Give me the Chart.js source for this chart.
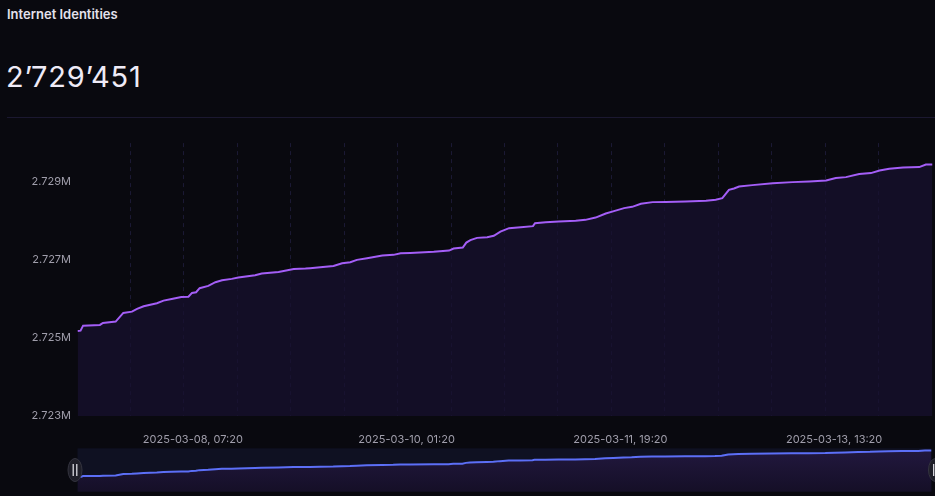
<!DOCTYPE html>
<html><head><meta charset="utf-8">
<script src="https://cdn.jsdelivr.net/npm/chart.js@4/dist/chart.umd.min.js"></script>
<style>
html,body{margin:0;padding:0;background:#09090f;width:935px;height:496px;overflow:hidden;font-family:Inter,"Noto Sans",sans-serif;}
#title{position:absolute;left:7px;top:8px;font-size:13px;line-height:13px;font-weight:600;color:#e4e1ec;white-space:nowrap;}
#value{position:absolute;left:6px;top:62px;font-size:29px;line-height:29px;font-weight:400;letter-spacing:0.8px;color:#efebf7;white-space:nowrap;}
#divider{position:absolute;left:7px;right:0;top:117px;height:1px;background:#1b1830;}
#c1{position:absolute;left:0;top:130px;}
#c2{position:absolute;left:0;top:446px;}
</style></head>
<body>
<div id="title">Internet Identities</div>
<div id="value">2’729’451</div>
<div id="divider"></div>
<canvas id="c1" width="935" height="318"></canvas>
<canvas id="c2" width="935" height="50"></canvas>
<script>
// hours since 2025-03-07 08:40
const hours = [0,0.6,1.1,4.4,5.0,7.5,9.0,10.7,11.7,13.0,15.6,16.9,18.5,20.4,21.8,22.5,23.3,24.0,25.7,27.1,28.4,30.3,31.6,34.9,36.2,39.5,42.5,44.8,45.7,47.7,50.3,52.0,53.6,54.9,56.9,59.9,62.1,63.5,65.4,70.0,73.0,73.9,75.7,76.4,77.2,78.5,80.5,81.8,83.1,84.8,87.1,89.5,89.9,92.0,94.6,97.9,99.8,101.8,103.8,105.4,107.4,109.0,110.7,113.0,115.6,119.5,123.5,125.4,126.7,128.0,129.0,130.0,132.6,136.6,140.5,143.8,147.1,149.0,151.0,153.6,155.9,157.6,159.5,162.2,165.4,166.7,168.0];
const identities = [2725182,2725190,2725318,2725336,2725387,2725421,2725644,2725677,2725747,2725816,2725893,2725960,2726003,2726055,2726060,2726157,2726175,2726278,2726337,2726432,2726483,2726517,2726550,2726612,2726653,2726696,2726773,2726781,2726791,2726817,2726850,2726920,2726946,2727005,2727048,2727115,2727133,2727177,2727184,2727210,2727243,2727295,2727320,2727449,2727510,2727569,2727587,2727621,2727731,2727818,2727844,2727870,2727947,2727972,2727988,2728006,2728031,2728090,2728193,2728255,2728332,2728365,2728442,2728486,2728490,2728501,2728519,2728545,2728588,2728801,2728835,2728886,2728922,2728973,2728999,2729015,2729040,2729102,2729127,2729205,2729230,2729297,2729340,2729374,2729384,2729451,2729451];
const xLabelHours = [22.667, 64.667, 106.667, 148.667];
const xTickLabels = ['2025-03-08, 07:20','2025-03-10, 01:20','2025-03-11, 19:20','2025-03-13, 13:20'];
const gridHours = [10.4,20.9,31.4,41.9,52.4,62.9,73.4,83.9,94.4,104.9,115.4,125.9,136.4,146.9,157.4];
const yTicks = [2723000, 2725000, 2727000, 2729000];
const yTickLabels = ['2.723M','2.725M','2.727M','2.729M'];

const points = hours.map((h, i) => ({x: h, y: identities[i]}));
const tickFont = {family: 'Inter', size: 11};
const tickColor = '#a09eab';

new Chart(document.getElementById('c1'), {
  type: 'line',
  data: {datasets: [{
    data: points,
    borderColor: '#a45ef7',
    borderWidth: 2,
    backgroundColor: 'rgba(23,17,47,0.72)',
    fill: 'start',
    pointRadius: 0,
    tension: 0
  }]},
  options: {
    responsive: false,
    animation: false,
    layout: {padding: {top: 13, right: 2.5, left: 0, bottom: 0}},
    plugins: {legend: {display: false}, tooltip: {enabled: false}},
    scales: {
      xg: {
        type: 'linear', position: 'bottom', min: 0, max: 168,
        afterBuildTicks: a => { a.ticks = gridHours.map(v => ({value: v})); },
        afterFit: a => { a.height = 0; },
        ticks: {display: false},
        grid: {color: 'rgba(62,56,120,0.36)', drawTicks: false, lineWidth: 1},
        border: {display: false, dash: [4, 4]}
      },
      x: {
        type: 'linear', position: 'bottom', min: 0, max: 168,
        afterBuildTicks: a => { a.ticks = xLabelHours.map(v => ({value: v})); },
        afterFit: a => { a.height = 32; },
        ticks: {font: tickFont, color: tickColor, padding: 17, maxRotation: 0, autoSkip: false,
          callback: (v, i) => xTickLabels[i]},
        grid: {display: false, drawTicks: false},
        border: {display: false}
      },
      y: {
        type: 'linear', min: 2723000, max: 2730000,
        afterBuildTicks: a => { a.ticks = yTicks.map(v => ({value: v})); },
        afterFit: a => { a.width = 77.5; },
        ticks: {font: tickFont, color: tickColor, padding: 6.5,
          callback: (v, i) => yTickLabels[i]},
        grid: {display: false, drawTicks: false},
        border: {display: false}
      }
    }
  }
});

const sliderBg = {
  id: 'sliderBg',
  beforeDatasetsDraw(chart) {
    const {ctx, chartArea: a} = chart;
    ctx.save();
    ctx.fillStyle = '#0f1122';
    ctx.fillRect(a.left, a.top, a.right - a.left, a.bottom - a.top);
    ctx.restore();
  },
  afterDraw(chart) {
    const {ctx, chartArea: a} = chart;
    const cy = (a.top + a.bottom) / 2;
    [a.left - 2.5, a.right + 4].forEach(cx => {
      ctx.save();
      ctx.beginPath();
      ctx.ellipse(cx, cy, 7, 11.5, 0, 0, Math.PI * 2);
      ctx.fillStyle = '#1f1f29';
      ctx.fill();
      ctx.lineWidth = 1;
      ctx.strokeStyle = '#34343f';
      ctx.stroke();
      ctx.strokeStyle = '#e8e8ee';
      ctx.lineWidth = 1.2;
      ctx.beginPath();
      ctx.moveTo(cx - 1.8, cy - 6); ctx.lineTo(cx - 1.8, cy + 6);
      ctx.moveTo(cx + 1.8, cy - 6); ctx.lineTo(cx + 1.8, cy + 6);
      ctx.stroke();
      ctx.restore();
    });
  }
};

new Chart(document.getElementById('c2'), {
  type: 'line',
  data: {datasets: [{
    data: points,
    borderColor: '#5c6ff7',
    borderWidth: 2,
    backgroundColor: (c) => {
      const a = c.chart.chartArea;
      if (!a) return '#1c1433';
      const g = c.chart.ctx.createLinearGradient(0, a.top, 0, a.bottom);
      g.addColorStop(0, '#22183f');
      g.addColorStop(1, '#150f27');
      return g;
    },
    fill: 'start',
    pointRadius: 0,
    tension: 0
  }]},
  options: {
    responsive: false,
    animation: false,
    layout: {padding: {top: 2.3, right: 3.5, left: 77.5, bottom: 4.3}},
    plugins: {legend: {display: false}, tooltip: {enabled: false}},
    scales: {
      x: {type: 'linear', min: 0, max: 168, display: false},
      y: {type: 'linear', min: 2722800, max: 2729800, display: false}
    }
  },
  plugins: [sliderBg]
});
</script>
</body></html>
